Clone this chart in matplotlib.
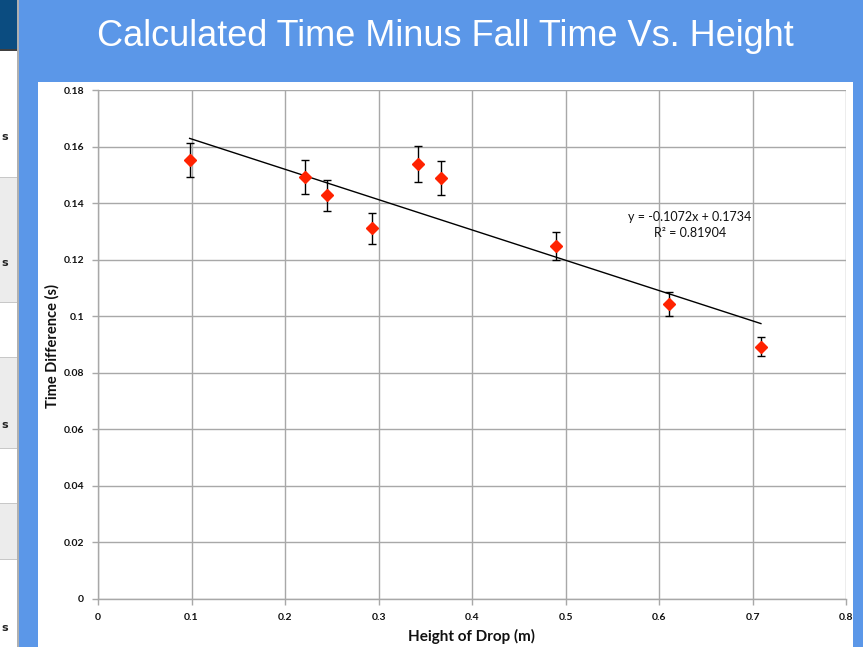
import matplotlib
matplotlib.use('Agg')
import matplotlib.pyplot as plt
from matplotlib.patches import Rectangle

# data
height = [0.098, 0.221, 0.245, 0.293, 0.342, 0.367, 0.490, 0.611, 0.709]
time_diff = [0.1552, 0.1493, 0.1427, 0.1311, 0.1538, 0.1488, 0.1249, 0.1043, 0.0892]
time_err = [0.0061, 0.0060, 0.0056, 0.0055, 0.0063, 0.0060, 0.0050, 0.0042, 0.0034]
slope, intercept, r2 = -0.1072, 0.1734, 0.81904

x_ticks = [0, 0.1, 0.2, 0.3, 0.4, 0.5, 0.6, 0.7, 0.8]
x_labels = ['0', '0.1', '0.2', '0.3', '0.4', '0.5', '0.6', '0.7', '0.8']
y_ticks = [0, 0.02, 0.04, 0.06, 0.08, 0.1, 0.12, 0.14, 0.16, 0.18]
y_labels = ['0', '0.02', '0.04', '0.06', '0.08', '0.1', '0.12', '0.14', '0.16', '0.18']

W, H = 863, 647
fig = plt.figure(figsize=(W / 100, H / 100), dpi=100)
fig.patch.set_facecolor('#5b97e8')

def px_rect(x0, y0, x1, y1, color):
    # rectangle given in pixel coords from top-left
    fig.patches.append(Rectangle((x0 / W, 1 - y1 / H), (x1 - x0) / W, (y1 - y0) / H,
                                 transform=fig.transFigure, facecolor=color,
                                 edgecolor='none', zorder=-1))

# slide pieces: left table strip and white chart panel
px_rect(0, 0, 17, H, 'white')
for top, bot in [(177, 302), (357, 448), (503, 559)]:
    px_rect(0, top, 17, bot, '#ececec')
for yl in [177, 302, 357, 448, 503, 559]:
    px_rect(0, yl - 0.5, 17, yl + 0.5, '#c8c8c8')
px_rect(0, 0, 17, 50, '#0b4c80')
px_rect(0, 49, 18, 51, '#404040')
px_rect(17, 0, 18.5, H, '#b0b0b0')
px_rect(38, 82, 853, H, 'white')
for yy in [137, 263, 425, 628]:
    fig.text(1 / W, 1 - yy / H, 's', fontsize=8, fontweight='bold',
             ha='left', va='center', color='#222222')

fig.text(445 / W, 1 - 36 / H, 'Calculated Time Minus Fall Time Vs. Height',
         color='white', fontsize=26, family='Liberation Sans',
         ha='center', va='center')

ax = fig.add_axes([98 / W, 48 / H, 748 / W, 509 / H])
ax.set_zorder(2)
ax.set_facecolor('white')
ax.set_xlim(0, 0.8)
ax.set_ylim(0, 0.18)
ax.set_xticks(x_ticks)
ax.set_xticklabels(x_labels)
ax.set_yticks(y_ticks)
ax.set_yticklabels(y_labels)
ax.grid(True, color='#a8a8a8', linewidth=1)
ax.set_axisbelow(True)
for s in ['top', 'right']:
    ax.spines[s].set_visible(False)
for s in ['left', 'bottom']:
    ax.spines[s].set_color('#a8a8a8')
    ax.spines[s].set_linewidth(1)
ax.tick_params(colors='#a8a8a8', length=4, width=1, labelcolor='#111111', pad=6)
for lab in ax.get_xticklabels() + ax.get_yticklabels():
    lab.set_fontsize(7.5)
    lab.set_fontweight('bold')
    lab.set_family('Lato')

# linear trendline from the displayed fit
tx = [height[0], height[-1]]
ty = [slope * v + intercept for v in tx]
ax.plot(tx, ty, color='black', linewidth=1, zorder=3)

ax.errorbar(height, time_diff, yerr=time_err, fmt='D', color='#ff2200',
            markersize=6, ecolor='black', elinewidth=1, capsize=3, capthick=1,
            zorder=4)

ax.text(0.633, 0.1352, 'y = -0.1072x + 0.1734', fontsize=9, family='Lato',
        ha='center', va='center', color='#111111')
ax.text(0.633, 0.1296, 'R² = 0.81904', fontsize=9, family='Lato',
        ha='center', va='center', color='#111111')

fig.text(471 / W, 1 - 636 / H, 'Height of Drop (m)', fontsize=11, fontweight='bold',
         family='Lato', ha='center', va='center', color='#111111')
fig.text(52 / W, 1 - 346 / H, 'Time Difference (s)', fontsize=10.5, fontweight='bold',
         family='Lato', ha='center', va='center', rotation=90, color='#111111')

fig.savefig('out.png', dpi=100, facecolor=fig.get_facecolor())
